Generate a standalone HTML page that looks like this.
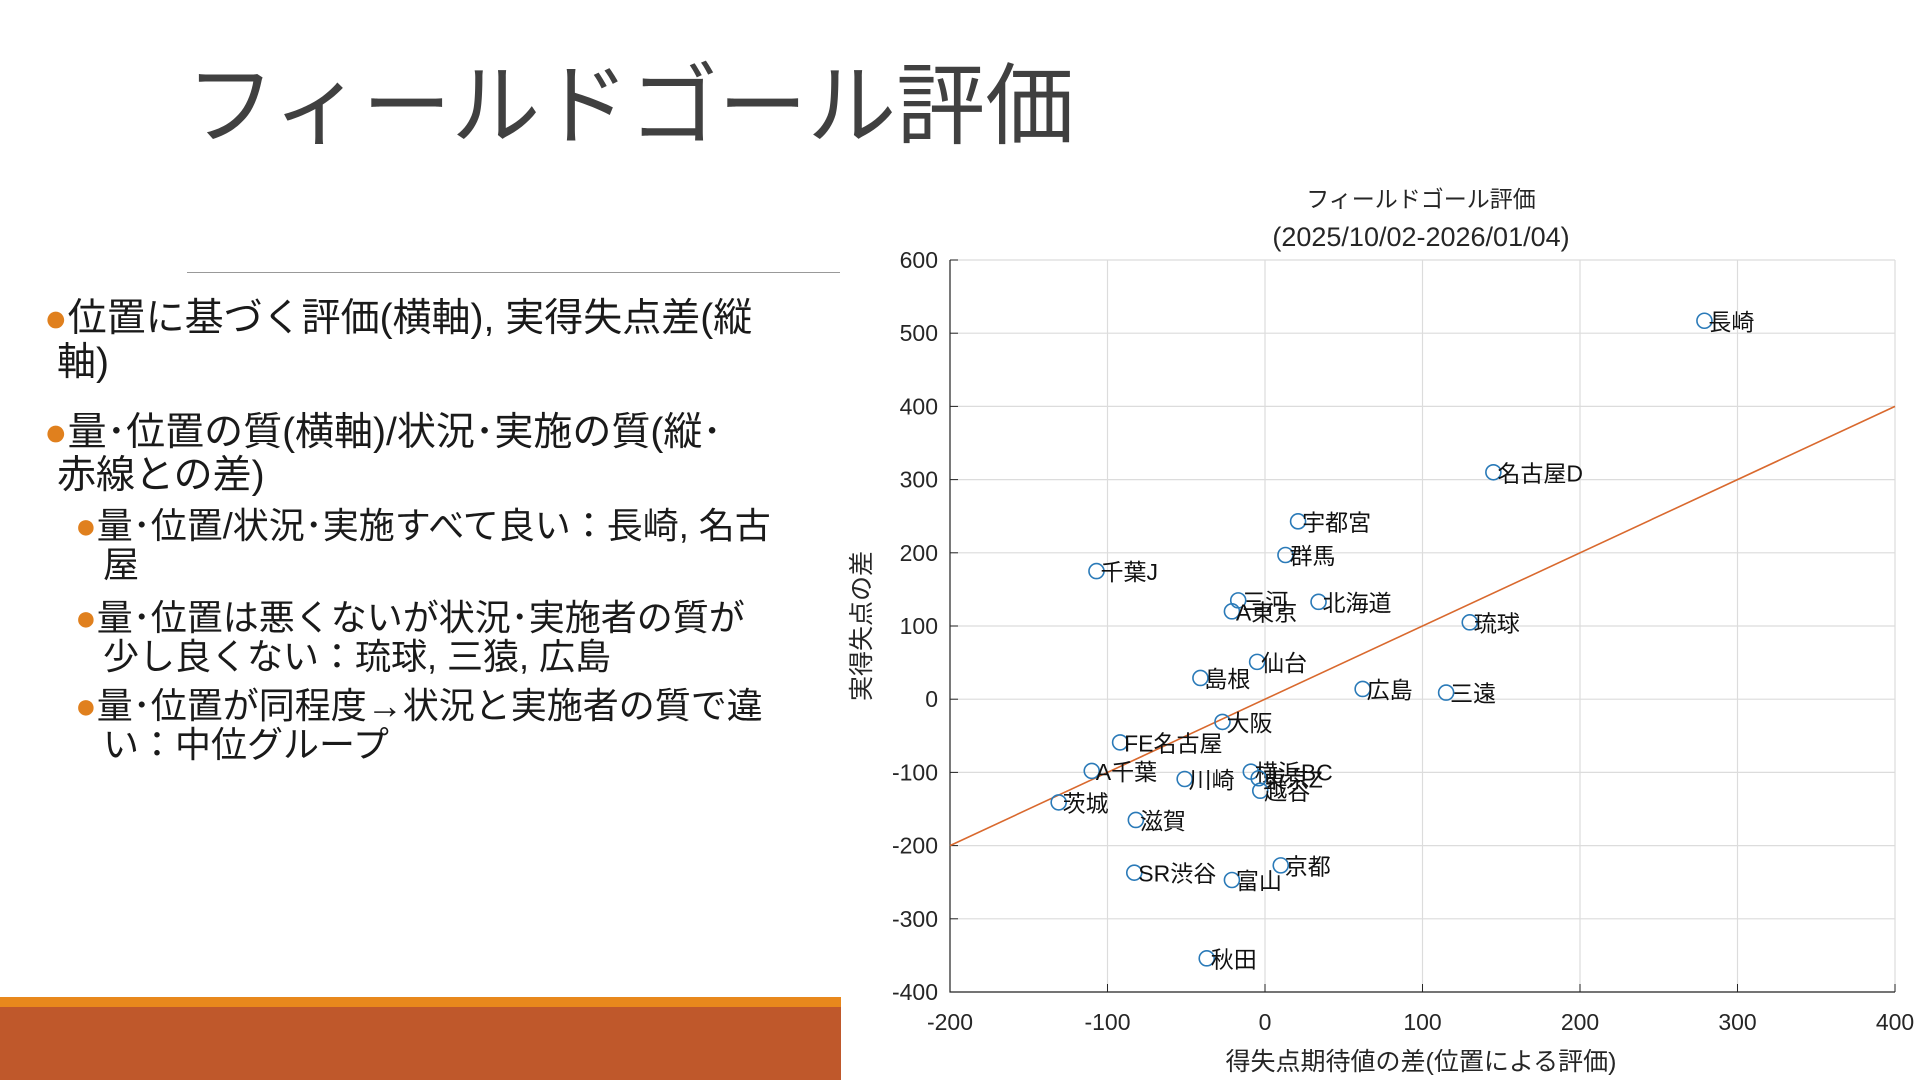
<!DOCTYPE html>
<html><head><meta charset="utf-8"><style>
body{margin:0;width:1920px;height:1080px;background:#fff;overflow:hidden;position:relative;font-family:"Liberation Sans","Noto Sans CJK JP",sans-serif;color:#1a1a1a}
.t{position:absolute;white-space:nowrap;line-height:1}
.b{color:#e0801e}
</style></head><body>
<div class="t" style="left:186px;top:62px;font-size:89px;color:#404040">フィールドゴール評価</div>
<div style="position:absolute;left:187px;top:272px;width:653px;height:1px;background:#999"></div>
<div>
<div class="t" style="left:44px;top:299px;font-size:39px"><span class="b">●</span>位置に基づく評価(横軸), 実得失点差(縦</div>
<div class="t" style="left:57px;top:343px;font-size:39px">軸)</div>
<div class="t" style="left:44px;top:413px;font-size:39px"><span class="b">●</span>量･位置の質(横軸)/状況･実施の質(縦･</div>
<div class="t" style="left:57px;top:456px;font-size:39px">赤線との差)</div>
<div class="t" style="left:75px;top:508px;font-size:36px"><span class="b">●</span>量･位置/状況･実施すべて良い：長崎, 名古</div>
<div class="t" style="left:103px;top:547px;font-size:36px">屋</div>
<div class="t" style="left:75px;top:600px;font-size:36px"><span class="b">●</span>量･位置は悪くないが状況･実施者の質が</div>
<div class="t" style="left:103px;top:639px;font-size:36px">少し良くない：琉球, 三猿, 広島</div>
<div class="t" style="left:75px;top:688px;font-size:36px"><span class="b">●</span>量･位置が同程度→状況と実施者の質で違</div>
<div class="t" style="left:103px;top:727px;font-size:36px">い：中位グループ</div>
</div>
<div style="position:absolute;left:0;top:997px;width:841px;height:10px;background:#e8881c"></div>
<div style="position:absolute;left:0;top:1007px;width:841px;height:73px;background:#bf582b"></div>
<svg id="chart" width="1920" height="1080" style="position:absolute;left:0;top:0" font-family="Liberation Sans, Noto Sans CJK JP, sans-serif"></svg>
<script>
const names=["長崎","名古屋D","宇都宮","群馬","千葉J","三河","北海道","A東京","琉球","仙台","島根","広島","三遠","大阪","FE名古屋","A千葉","川崎","横浜BC","東京Z","越谷","茨城","滋賀","京都","SR渋谷","富山","秋田"];
const xVals=[279,145,21,13,-107,-17,34,-21,130,-5,-41,62,115,-27,-92,-110,-51,-9,-4,-3,-131,-82,10,-83,-21,-37];
const yVals=[517,310,243,197,175,135,133,120,105,51,29,14,9,-31,-59,-98,-109,-99,-108,-125,-141,-165,-227,-237,-247,-354];
const xTicks=[-200,-100,0,100,200,300,400];
const yTicks=[-400,-300,-200,-100,0,100,200,300,400,500,600];
const fitLine=[[-200,-200],[400,400]];
const NS="http://www.w3.org/2000/svg",svg=document.getElementById('chart');
const L=950,R=1895,T=260,B=992;
const sx=v=>L+(v+200)/600*(R-L), sy=v=>B-(v+400)/1000*(B-T);
function mk(t,a,p){const e=document.createElementNS(NS,t);for(const k in a)e.setAttribute(k,a[k]);(p||svg).appendChild(e);return e;}
const g=mk('g',{});


xTicks.forEach(v=>{mk('line',{x1:sx(v),x2:sx(v),y1:T,y2:B,stroke:'#dcdcdc','stroke-width':1.2},g);
const t=mk('text',{x:sx(v),y:B+38,'text-anchor':'middle','font-size':23,fill:'#262626'});t.textContent=v;

});
yTicks.forEach(v=>{mk('line',{x1:L,x2:R,y1:sy(v),y2:sy(v),stroke:'#dcdcdc','stroke-width':1.2},g);
const t=mk('text',{x:L-12,y:sy(v)+8,'text-anchor':'end','font-size':23,fill:'#262626'});t.textContent=v;

});
const ax=mk('path',{d:`M${L},${T}V${B}H${R}`,fill:'none',stroke:'#262626','stroke-width':1.2});


xTicks.forEach(v=>mk('line',{x1:sx(v),x2:sx(v),y1:B,y2:B-8,stroke:'#262626'}));
yTicks.forEach(v=>mk('line',{x1:L,x2:L+8,y1:sy(v),y2:sy(v),stroke:'#262626'}));
const fl=mk('line',{x1:sx(fitLine[0][0]),y1:sy(fitLine[0][1]),x2:sx(fitLine[1][0]),y2:sy(fitLine[1][1]),stroke:'#d9692e','stroke-width':1.6});


names.forEach((n,i)=>{const c=mk('circle',{cx:sx(xVals[i]),cy:sy(yVals[i]),r:7.5,fill:'none',stroke:'#2a7ab8','stroke-width':1.6});


const t=mk('text',{x:sx(xVals[i])+4,y:sy(yVals[i])+9,'font-size':23,fill:'#111'});t.textContent=n;

});
const t1=mk('text',{x:1421,y:207,'text-anchor':'middle','font-size':23,fill:'#262626'});t1.textContent='フィールドゴール評価';


const t2=mk('text',{x:1421,y:246,'text-anchor':'middle','font-size':27,fill:'#262626'});t2.textContent='(2025/10/02-2026/01/04)';


const xl=mk('text',{x:1421,y:1070,'text-anchor':'middle','font-size':25,fill:'#262626'});xl.textContent='得失点期待値の差(位置による評価)';


const yl=mk('text',{x:0,y:0,'text-anchor':'middle','font-size':25,fill:'#262626',transform:'translate(870,626) rotate(-90)'});yl.textContent='実得失点の差';


</script>
</body></html>
